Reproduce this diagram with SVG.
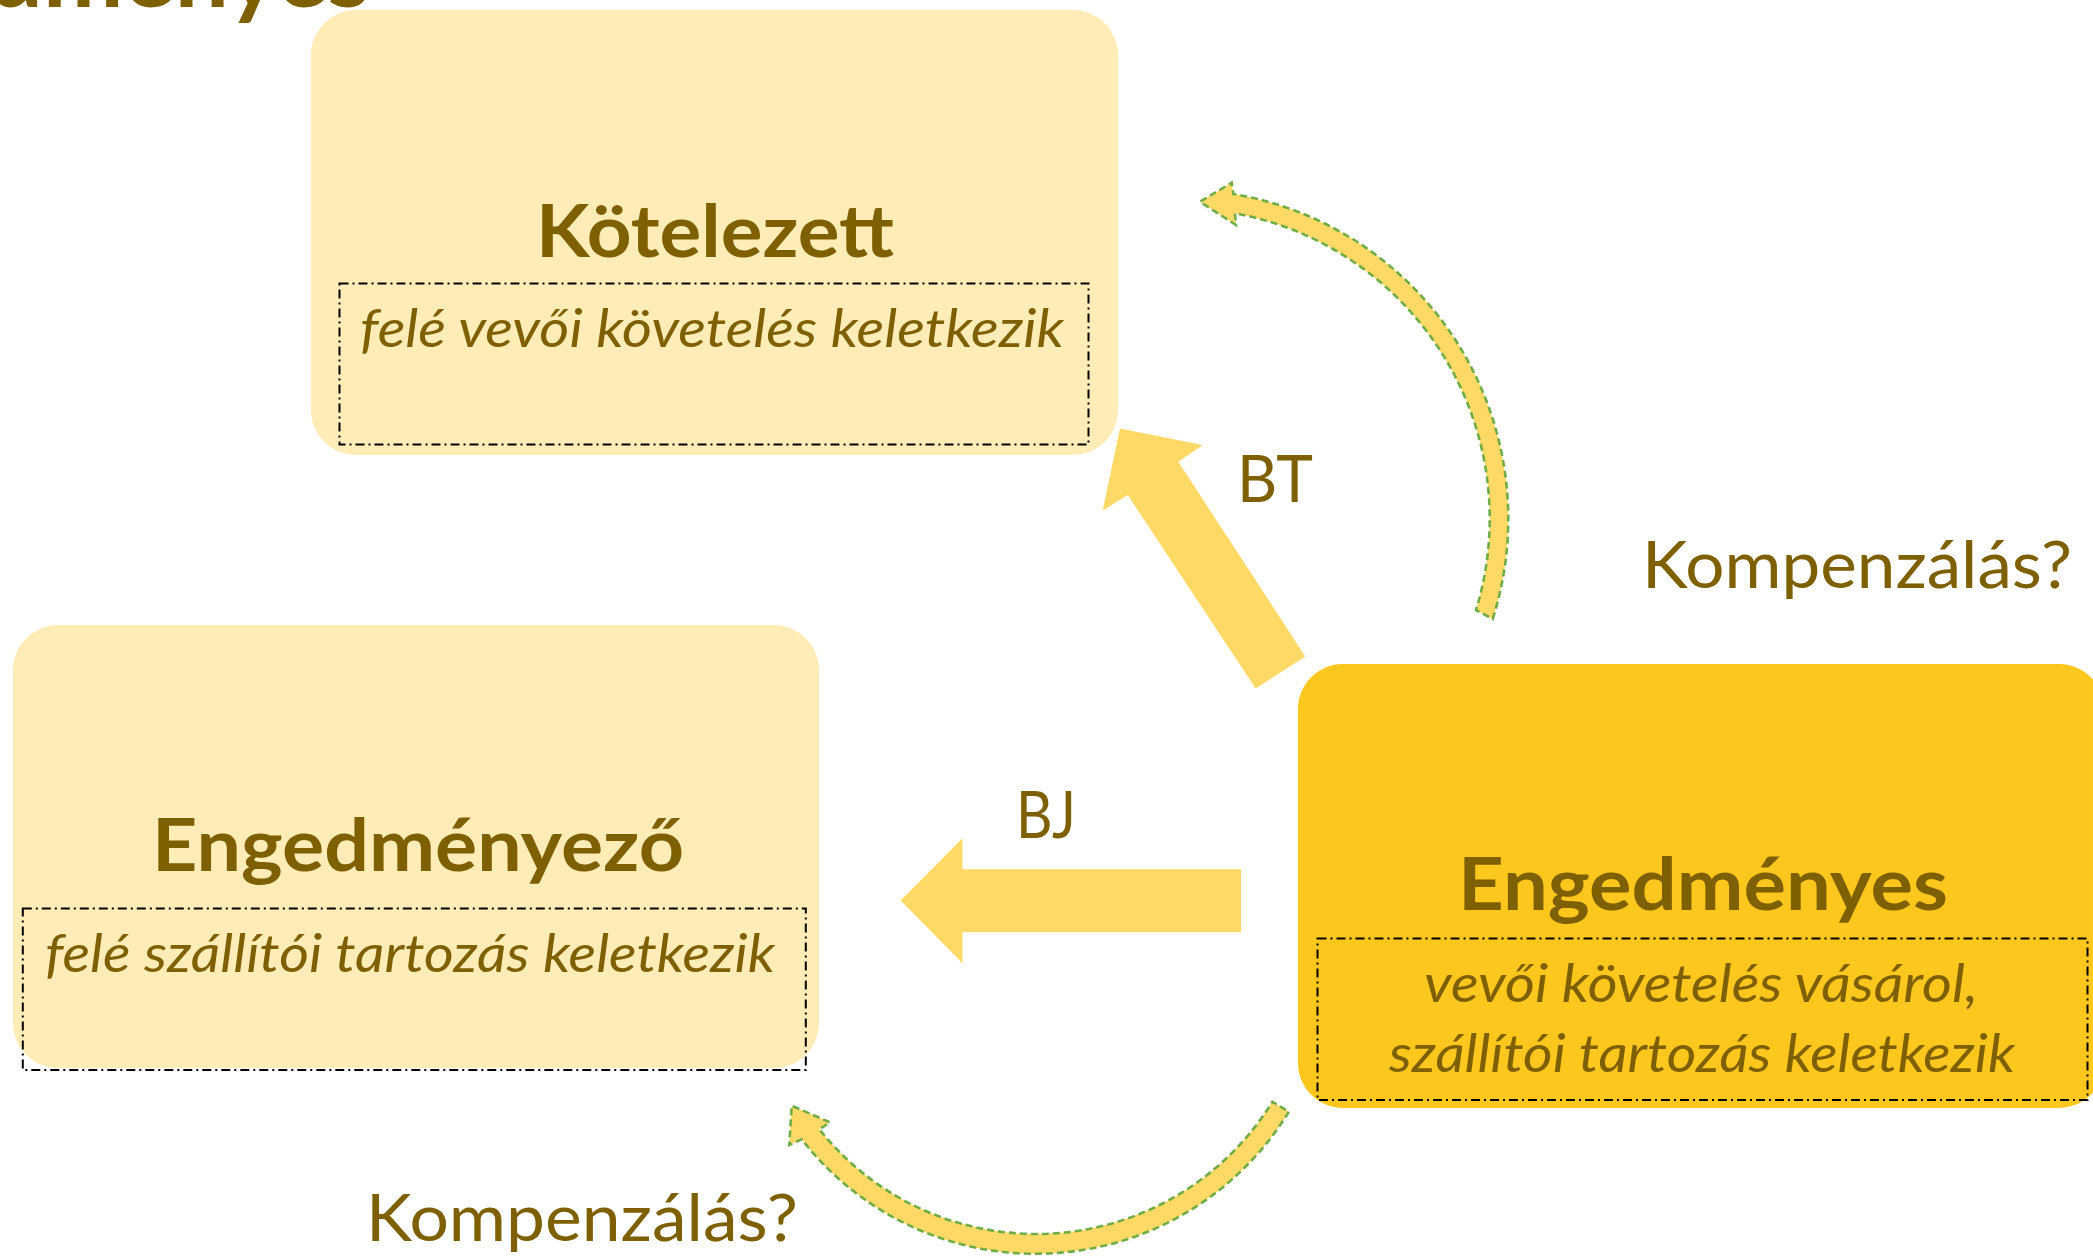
<svg xmlns="http://www.w3.org/2000/svg" width="2093" height="1256" viewBox="0 0 2093 1256">
  <style>
    .box-light { fill: #FFECB7; }
    .box-gold { fill: #FEC71D; }
    .inner { fill: none; stroke: #000000; stroke-width: 2; stroke-dasharray: 9 4 2 4; }
    .title { font-family: Lato, "Open Sans", sans-serif; font-weight: bold; font-size: 73px; fill: #7F6000; }
    .sub { font-family: Lato, "Open Sans", sans-serif; font-style: italic; font-size: 52px; fill: #7F6000; }
    .label { font-family: Lato, "Open Sans", sans-serif; font-size: 66px; fill: #7F6000; }
    .big-arrow { fill: #FFD966; }
    .arc { fill: #FFD966; stroke: #70AD47; stroke-width: 2.6; stroke-dasharray: 7 4; stroke-linejoin: miter; }
  </style>

  <text id="page-title" x="370" y="7" text-anchor="end" font-family="Lato, 'Open Sans', sans-serif" font-weight="bold" font-size="96" fill="#7F6000">Engedményes</text>

  <g id="node-kotelezett">
    <rect class="box-light" x="311" y="10" width="807" height="445" rx="45" ry="45"/>
    <rect class="inner" x="339.5" y="283.5" width="749" height="161"/>
    <text class="title" x="536" y="256.5" textLength="358" lengthAdjust="spacingAndGlyphs">Kötelezett</text>
    <text class="sub" x="360" y="346.5" textLength="704" lengthAdjust="spacingAndGlyphs">felé vevői követelés keletkezik</text>
  </g>

  <g id="node-engedmenyezo">
    <rect class="box-light" x="13" y="625" width="806" height="443" rx="45" ry="45"/>
    <rect class="inner" x="22.8" y="908.5" width="783" height="161.5"/>
    <text class="title" x="152" y="871" textLength="532" lengthAdjust="spacingAndGlyphs">Engedményező</text>
    <text class="sub" x="45" y="971.5" textLength="730" lengthAdjust="spacingAndGlyphs">felé szállítói tartozás keletkezik</text>
  </g>

  <g id="node-engedmenyes">
    <rect class="box-gold" x="1298" y="664" width="806" height="444" rx="45" ry="45"/>
    <rect class="inner" x="1317.5" y="938.5" width="770" height="161.5"/>
    <text class="title" x="1458" y="909.5" textLength="490" lengthAdjust="spacingAndGlyphs">Engedményes</text>
    <text class="sub" x="1424" y="1001.5" textLength="554" lengthAdjust="spacingAndGlyphs">vevői követelés vásárol,</text>
    <text class="sub" x="1389" y="1071.5" textLength="626" lengthAdjust="spacingAndGlyphs">szállítói tartozás keletkezik</text>
  </g>

  <g id="connectors">
    <polygon id="arrow-bt" class="big-arrow" points="1120,428.6 1202.7,445 1178.3,461.8 1305.3,656.4 1255.7,688.6 1127.7,495 1102.7,510.7"/>
    <polygon id="arrow-bj" class="big-arrow" points="900.7,900.5 962.5,838.3 962.5,869.3 1241,869.3 1241,932.3 962.5,932.3 962.5,963.3"/>
    <path id="arc-top" class="arc" d="M1492.7,619 A329.5,329.5 0 0 0 1233.3,194 L1231.7,182.7 L1200,201.7 L1236,225 L1235,213.3 A310.5,310.5 0 0 1 1476,610 Z"/>
    <path id="arc-bottom" class="arc" d="M1288.8,1111.7 A296.5,296.5 0 0 1 801.7,1139.3 L789.3,1145 L791.7,1105.7 L830,1122.3 L819.3,1129.3 A277,277 0 0 0 1272.4,1101.7 Z"/>
  </g>

  <g id="labels">
    <text class="label" x="1237" y="501.5" textLength="76" lengthAdjust="spacingAndGlyphs">BT</text>
    <text class="label" x="1016" y="838.3" textLength="60" lengthAdjust="spacingAndGlyphs">BJ</text>
    <text class="label" x="1642" y="587.7" textLength="430" lengthAdjust="spacingAndGlyphs">Kompenzálás?</text>
    <text class="label" x="366" y="1240.5" textLength="432" lengthAdjust="spacingAndGlyphs">Kompenzálás?</text>
  </g>
</svg>
